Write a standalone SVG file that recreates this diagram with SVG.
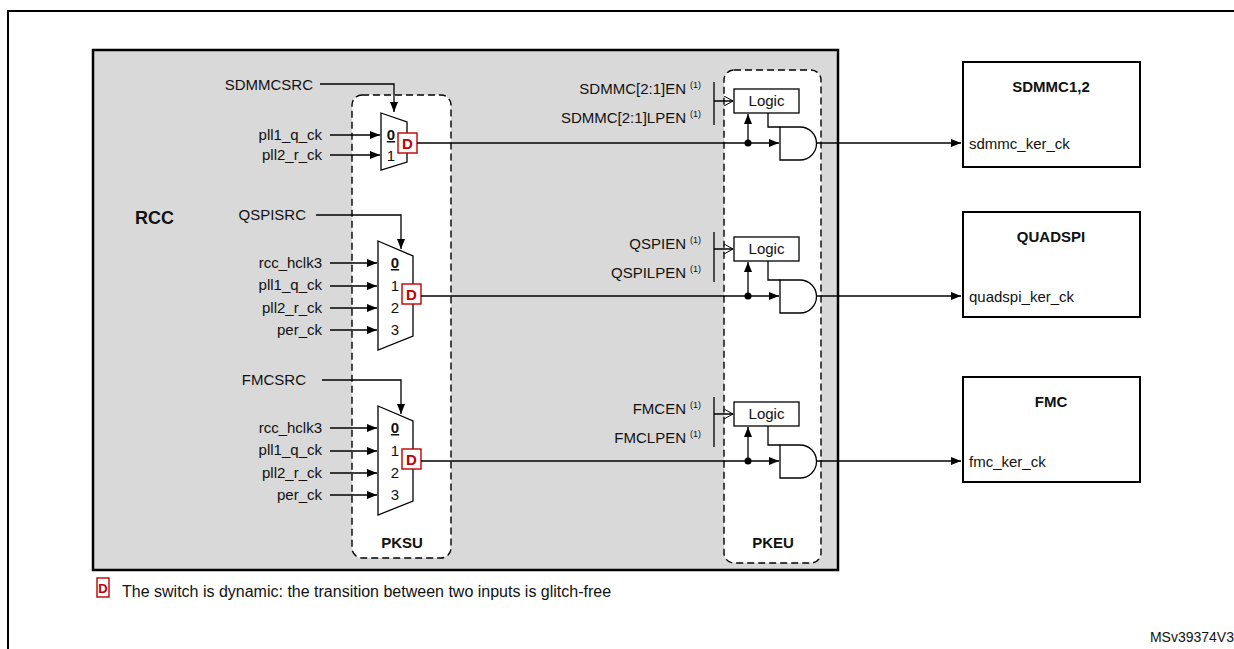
<svg xmlns="http://www.w3.org/2000/svg" width="1234" height="649" viewBox="0 0 1234 649">
<style>
text{font-family:"Liberation Sans",Arial,sans-serif;font-size:15px;fill:#111}
.r{text-anchor:end}.m{text-anchor:middle}.b{font-weight:bold}
.ln{stroke:#000;stroke-width:1.3;fill:none}
.dash{fill:#fff;stroke:#000;stroke-width:1.4;stroke-dasharray:7,4}
.mux{fill:#fff;stroke:#000;stroke-width:1.3}
.d{fill:#fff;stroke:#c00000;stroke-width:1.4}
.dt{fill:#c00000;font-weight:bold;font-size:15px;text-anchor:middle}
.sup{font-size:9px}
.box{fill:#fff;stroke:#000;stroke-width:2}
</style>
<defs>
<marker id="a" markerWidth="10" markerHeight="8" refX="10" refY="4" orient="auto" markerUnits="userSpaceOnUse"><path d="M0,0L10,4L0,8z" fill="#000"/></marker>
<marker id="o" markerWidth="9" markerHeight="10" refX="9" refY="5" orient="auto" markerUnits="userSpaceOnUse"><path d="M0,0L9,5L0,10" fill="none" stroke="#000" stroke-width="1"/></marker>
</defs>
<path d="M8,649V11H1234" fill="none" stroke="#000" stroke-width="2"/>
<g id="rcc"><rect x="93" y="50" width="745" height="520" fill="#d9d9d9" stroke="#000" stroke-width="2.5"/><text x="135" y="224" class="b" style="font-size:18px">RCC</text></g>
<g id="pksu"><rect x="352" y="95" width="99" height="463" rx="10" class="dash"/><text x="402" y="548" class="m b">PKSU</text></g>
<g id="pkeu"><rect x="724" y="70" width="97" height="493" rx="10" class="dash"/><text x="773" y="548" class="m b">PKEU</text></g>
<g id="mux1"><path d="M381,113L407,122V162L381,170Z" class="mux"/><text x="391" y="140" class="m" text-decoration="underline" font-weight="bold">0</text><text x="391" y="161" class="m">1</text><rect x="398" y="133" width="19" height="20" class="d"/><text x="407.5" y="149" class="dt">D</text></g>
<g id="mux2"><path d="M378,241L413,256V336L378,350Z" class="mux"/><text x="395" y="268" class="m" text-decoration="underline" font-weight="bold">0</text><text x="395" y="291" class="m">1</text><text x="395" y="313" class="m">2</text><text x="395" y="335" class="m">3</text><rect x="402" y="284" width="19" height="20" class="d"/><text x="411.5" y="300" class="dt">D</text></g>
<g id="mux3"><path d="M378,406L413,421V501L378,515Z" class="mux"/><text x="395" y="433" class="m" text-decoration="underline" font-weight="bold">0</text><text x="395" y="456" class="m">1</text><text x="395" y="478" class="m">2</text><text x="395" y="500" class="m">3</text><rect x="402" y="449" width="19" height="20" class="d"/><text x="411.5" y="465" class="dt">D</text></g>
<g id="labels">
<text x="313" y="90" class="r">SDMMCSRC</text><text x="322" y="140" class="r">pll1_q_ck</text><text x="322" y="160" class="r">pll2_r_ck</text>
<text x="306" y="220" class="r">QSPISRC</text><text x="322" y="268" class="r">rcc_hclk3</text><text x="322" y="290" class="r">pll1_q_ck</text><text x="322" y="313" class="r">pll2_r_ck</text><text x="322" y="335" class="r">per_ck</text>
<text x="306" y="385" class="r">FMCSRC</text><text x="322" y="433" class="r">rcc_hclk3</text><text x="322" y="455" class="r">pll1_q_ck</text><text x="322" y="478" class="r">pll2_r_ck</text><text x="322" y="500" class="r">per_ck</text>
<text x="686" y="94" class="r">SDMMC[2:1]EN</text><text x="690" y="88" class="sup">(1)</text>
<text x="686" y="123" class="r">SDMMC[2:1]LPEN</text><text x="690" y="117" class="sup">(1)</text>
<text x="686" y="249" class="r">QSPIEN</text><text x="690" y="243" class="sup">(1)</text>
<text x="686" y="278" class="r">QSPILPEN</text><text x="690" y="272" class="sup">(1)</text>
<text x="686" y="414" class="r">FMCEN</text><text x="690" y="408" class="sup">(1)</text>
<text x="686" y="443" class="r">FMCLPEN</text><text x="690" y="437" class="sup">(1)</text>
</g>
<g id="gate1"><rect x="734" y="89" width="65" height="24" fill="#fff" stroke="#000" stroke-width="1.3"/><text x="766.5" y="106" class="m">Logic</text><path d="M780,127H800A16.5,16.5 0 0 1 800,160H780Z" class="mux"/></g>
<g id="gate2"><rect x="734" y="237" width="65" height="24" fill="#fff" stroke="#000" stroke-width="1.3"/><text x="766.5" y="254" class="m">Logic</text><path d="M780,280H800A16.5,16.5 0 0 1 800,313H780Z" class="mux"/></g>
<g id="gate3"><rect x="734" y="402" width="65" height="24" fill="#fff" stroke="#000" stroke-width="1.3"/><text x="766.5" y="419" class="m">Logic</text><path d="M780,445H800A16.5,16.5 0 0 1 800,478H780Z" class="mux"/></g>
<g id="sdmmc"><rect x="963" y="62" width="177" height="105" class="box"/><text x="1051" y="92" class="m b">SDMMC1,2</text><text x="969" y="149">sdmmc_ker_ck</text></g>
<g id="quadspi"><rect x="963" y="212" width="177" height="105" class="box"/><text x="1051" y="242" class="m b">QUADSPI</text><text x="969" y="302">quadspi_ker_ck</text></g>
<g id="fmc"><rect x="963" y="377" width="177" height="105" class="box"/><text x="1051" y="407" class="m b">FMC</text><text x="969" y="467">fmc_ker_ck</text></g>
<g id="connectors" class="ln">
<path d="M320,84H394V112" marker-end="url(#a)"/>
<path d="M330,135H380" marker-end="url(#a)"/><path d="M330,155H380" marker-end="url(#a)"/>
<path d="M417,143H779" marker-end="url(#a)"/>
<path d="M748,143V114" marker-end="url(#a)"/><path d="M768,113V127H780"/>
<path d="M714,82V125M714,101H733" marker-end="url(#o)"/>
<path d="M816.5,143H961" marker-end="url(#a)"/>
<path d="M316,215H401V249" marker-end="url(#a)"/>
<path d="M330,263H377" marker-end="url(#a)"/><path d="M330,286H377" marker-end="url(#a)"/><path d="M330,308H377" marker-end="url(#a)"/><path d="M330,330H377" marker-end="url(#a)"/>
<path d="M421,296H779" marker-end="url(#a)"/>
<path d="M748,296V262" marker-end="url(#a)"/><path d="M768,261V280H780"/>
<path d="M714,232V282M714,249H733" marker-end="url(#o)"/>
<path d="M816.5,296H961" marker-end="url(#a)"/>
<path d="M322,380H401V414" marker-end="url(#a)"/>
<path d="M330,428H377" marker-end="url(#a)"/><path d="M330,451H377" marker-end="url(#a)"/><path d="M330,473H377" marker-end="url(#a)"/><path d="M330,495H377" marker-end="url(#a)"/>
<path d="M421,461H779" marker-end="url(#a)"/>
<path d="M748,461V427" marker-end="url(#a)"/><path d="M768,426V445H780"/>
<path d="M714,397V447M714,414H733" marker-end="url(#o)"/>
<path d="M816.5,461H961" marker-end="url(#a)"/>
</g>
<circle cx="748" cy="143" r="3.5"/><circle cx="748" cy="296" r="3.5"/><circle cx="748" cy="461" r="3.5"/>
<g id="legend"><rect x="97" y="578" width="12" height="19" class="d"/><text x="103" y="593" class="dt" style="font-size:13px">D</text><text x="122" y="597" style="font-size:16px">The switch is dynamic: the transition between two inputs is glitch-free</text></g>
<text x="1234" y="642" class="r" style="font-size:14px">MSv39374V3</text>
</svg>
